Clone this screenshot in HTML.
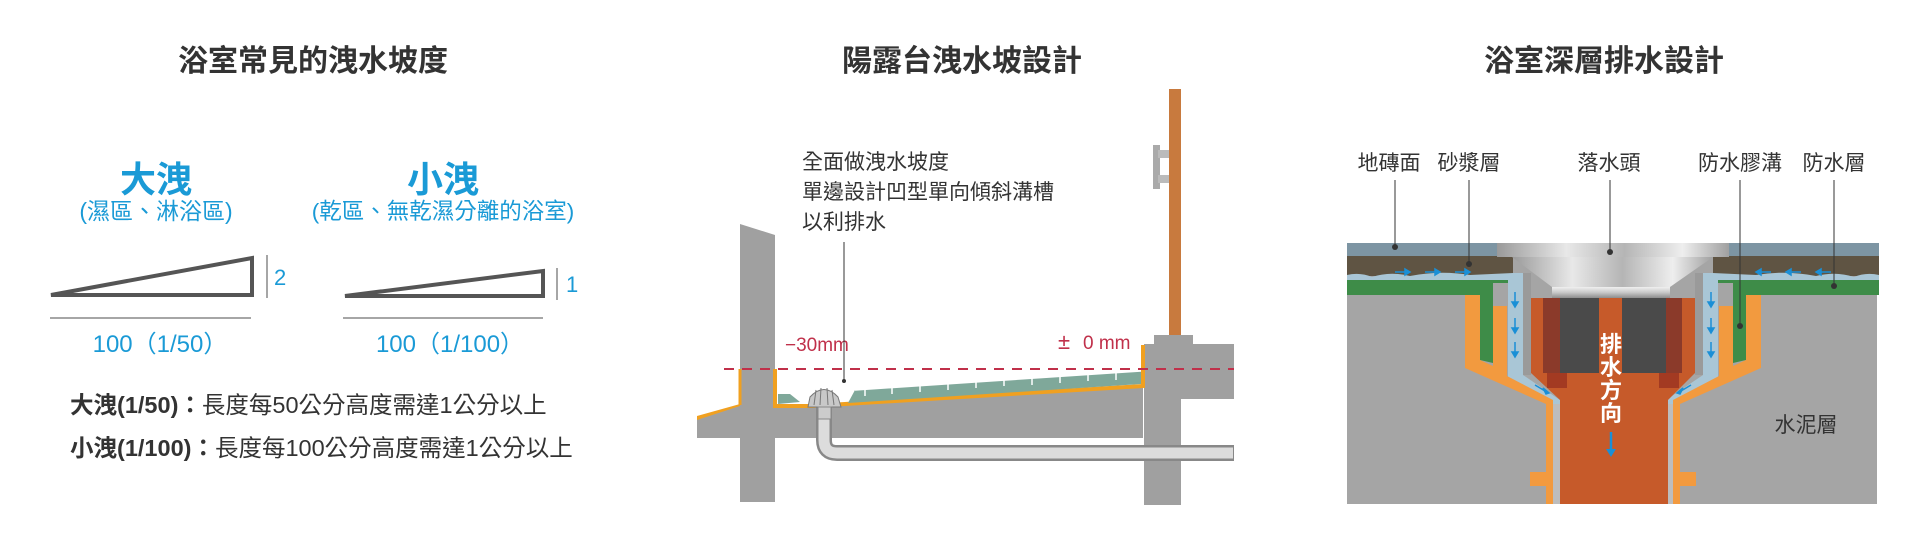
<!DOCTYPE html>
<html><head><meta charset="utf-8">
<style>
html,body{margin:0;padding:0;background:#fff;}
svg{display:block;}
text{font-family:"Liberation Sans","Noto Sans CJK TC",sans-serif;}
</style></head>
<body>
<svg width="1920" height="536" viewBox="0 0 1920 536" xmlns="http://www.w3.org/2000/svg">
<defs>
<linearGradient id="silv" x1="0" y1="0" x2="1" y2="0">
<stop offset="0" stop-color="#9a9a9a"/><stop offset="0.3" stop-color="#e8e8e8"/><stop offset="0.55" stop-color="#b5b5b5"/><stop offset="0.8" stop-color="#eeeeee"/><stop offset="1" stop-color="#a0a0a0"/>
</linearGradient>
<linearGradient id="silv2" x1="0" y1="0" x2="0" y2="1">
<stop offset="0" stop-color="#f0f0f0"/><stop offset="0.5" stop-color="#c8c8c8"/><stop offset="1" stop-color="#8c8c8c"/>
</linearGradient>
</defs>

<!-- ===== Panel 1 ===== -->
<text x="313" y="71" font-size="30" font-weight="bold" fill="#333" text-anchor="middle">浴室常見的洩水坡度</text>
<text x="156" y="192" font-size="36" font-weight="bold" fill="#1a9ad6" text-anchor="middle">大洩</text>
<text x="156" y="219" font-size="23" fill="#1a9ad6" text-anchor="middle">(濕區、淋浴區)</text>
<text x="443" y="192" font-size="36" font-weight="bold" fill="#1a9ad6" text-anchor="middle">小洩</text>
<text x="443" y="219" font-size="22.5" fill="#1a9ad6" text-anchor="middle">(乾區、無乾濕分離的浴室)</text>

<polygon points="51,295 252,258 252,295" fill="none" stroke="#555" stroke-width="4" stroke-linejoin="miter"/>
<line x1="267" y1="255" x2="267" y2="298" stroke="#888" stroke-width="1.5"/>
<text x="274" y="285" font-size="22" fill="#1a9ad6">2</text>
<line x1="50" y1="318" x2="251" y2="318" stroke="#888" stroke-width="1.5"/>
<text x="160" y="352" font-size="24" fill="#1a9ad6" text-anchor="middle">100（1/50）</text>

<polygon points="345,296 543,271 543,296" fill="none" stroke="#555" stroke-width="4"/>
<line x1="557" y1="268" x2="557" y2="300" stroke="#888" stroke-width="1.5"/>
<text x="566" y="292" font-size="22" fill="#1a9ad6">1</text>
<line x1="343" y1="318" x2="543" y2="318" stroke="#888" stroke-width="1.5"/>
<text x="450" y="352" font-size="24" fill="#1a9ad6" text-anchor="middle">100（1/100）</text>

<text x="70" y="413" font-size="23.5" fill="#333"><tspan font-weight="bold">大洩(1/50)：</tspan>長度每50公分高度需達1公分以上</text>
<text x="70" y="456" font-size="23.5" fill="#333"><tspan font-weight="bold">小洩(1/100)：</tspan>長度每100公分高度需達1公分以上</text>

<!-- ===== Panel 2 ===== -->
<text x="962" y="71" font-size="30" font-weight="bold" fill="#333" text-anchor="middle">陽露台洩水坡設計</text>
<text x="802" y="169" font-size="21" fill="#333">全面做洩水坡度</text>
<text x="802" y="199" font-size="21" fill="#333">單邊設計凹型單向傾斜溝槽</text>
<text x="802" y="229" font-size="21" fill="#333">以利排水</text>

<rect x="1169" y="89" width="12" height="248" fill="#c87a3e"/>
<rect x="1153" y="145" width="7" height="44" fill="#aaa"/>
<rect x="1158" y="150" width="11" height="8" fill="#bbb"/>
<rect x="1158" y="175" width="11" height="8" fill="#bbb"/>

<g fill="#a0a0a0">
<polygon points="740,224 775,235 775,502 740,502"/>
<polygon points="697,418 740,405 775,405 812,407 1143,387 1143,438 697,438"/>
<rect x="1144" y="344" width="90" height="55"/>
<rect x="1154" y="335" width="39" height="10"/>
<rect x="1144" y="344" width="37" height="161"/>
</g>
<polygon points="697,416 740,404 740,406 697,420" fill="#f0a020"/>
<polyline points="740,369 740,405" stroke="#f0a020" stroke-width="3" fill="none"/>
<polyline points="775,369 775,406 812,406 1143,386 1143,345" stroke="#f0a020" stroke-width="4" fill="none"/>
<polygon points="778,404 778,394 790,394 800,402" fill="#7fa89a"/>
<polygon points="848,403 855,390 1141,371 1141,384" fill="#7fa89a"/>
<g stroke="#fff" stroke-width="1.5">
<line x1="865" y1="389" x2="865" y2="396"/><line x1="892" y1="387" x2="892" y2="394"/>
<line x1="920" y1="385" x2="920" y2="392"/><line x1="948" y1="383" x2="948" y2="390"/>
<line x1="976" y1="381" x2="976" y2="388"/><line x1="1004" y1="379" x2="1004" y2="386"/>
<line x1="1032" y1="378" x2="1032" y2="385"/><line x1="1060" y1="376" x2="1060" y2="383"/>
<line x1="1088" y1="374" x2="1088" y2="381"/><line x1="1116" y1="373" x2="1116" y2="380"/>
<line x1="855" y1="390" x2="1141" y2="371"/>
</g>
<path d="M824,405 V440 Q824,453 837,453 H1234" stroke="#888" stroke-width="16" fill="none"/>
<path d="M824,405 V440 Q824,453 837,453 H1233" stroke="#dcdcdc" stroke-width="11" fill="none"/>
<path d="M808,407 L810,397 Q824,382 838,397 L841,407 Z" fill="#c8c8c8" stroke="#777" stroke-width="1"/>
<g stroke="#777" stroke-width="1"><line x1="816" y1="390" x2="814" y2="405"/><line x1="821" y1="388" x2="820" y2="405"/><line x1="827" y1="388" x2="828" y2="405"/><line x1="832" y1="390" x2="834" y2="405"/></g>
<rect x="818" y="407" width="13" height="12" fill="#ccc" stroke="#888"/>
<line x1="724" y1="369" x2="1234" y2="369" stroke="#c0304a" stroke-width="2" stroke-dasharray="10,8"/>
<text x="785" y="351" font-size="19" fill="#c0304a">−30mm</text>
<text x="1058" y="349" font-size="22" fill="#c0304a">±</text>
<text x="1083" y="349" font-size="19" fill="#c0304a">0 mm</text>
<line x1="844" y1="242" x2="844" y2="381" stroke="#333" stroke-width="1"/>
<circle cx="844" cy="381" r="2" fill="#333"/>

<!-- ===== Panel 3 ===== -->
<text x="1604" y="71" font-size="30" font-weight="bold" fill="#333" text-anchor="middle">浴室深層排水設計</text>
<rect x="1347" y="243" width="530" height="261" fill="#a5a5a5"/>

<g id="half">
<rect x="1347" y="243" width="150" height="13" fill="#7d95a3"/>
<rect x="1347" y="256" width="166" height="20" fill="#5f5443"/>
<path d="M1347,275 Q1360,272 1372,277 Q1390,271 1410,276 Q1440,270 1470,275 L1513,273 L1523,273 L1523,375 L1560,400 L1560,504 L1552,504 L1552,404 L1508,378 L1508,281 L1347,281 Z" fill="#a9c6d6"/>
<polygon points="1347,280 1508,280 1508,283 1493,283 1493,363 1480,360 1480,295 1347,295" fill="#3e8c48"/>
<polygon points="1465,295 1480,295 1480,360 1493,366 1493,306 1507,306 1507,376 1553,400 1553,504 1546,504 1546,486 1530,486 1530,472 1546,472 1546,404 1465,368" fill="#f29a3f"/>
<polygon points="1553,404 1560,404 1560,504 1553,504" fill="#bdbdbd"/>
<rect x="1523" y="273" width="8" height="102" fill="#9a9a9a"/>
<g fill="#1a8fd6" stroke="#1a8fd6" stroke-width="1.5">
<line x1="1395" y1="272" x2="1405" y2="272"/><polygon points="1405,269 1410,272 1405,275"/>
<line x1="1425" y1="272" x2="1435" y2="272"/><polygon points="1435,269 1440,272 1435,275"/>
<line x1="1455" y1="272" x2="1465" y2="272"/><polygon points="1465,269 1470,272 1465,275"/>
<line x1="1515" y1="292" x2="1515" y2="302"/><polygon points="1512,302 1515,307 1518,302"/>
<line x1="1515" y1="318" x2="1515" y2="328"/><polygon points="1512,328 1515,333 1518,328"/>
<line x1="1515" y1="342" x2="1515" y2="352"/><polygon points="1512,352 1515,357 1518,352"/>
<line x1="1535" y1="385" x2="1545" y2="391"/><polygon points="1543,388 1549,393 1546,394"/>
</g>
</g>
<use href="#half" transform="translate(3226,0) scale(-1,1)"/>

<polygon points="1531,298 1695,298 1695,373 1668,400 1668,504 1560,504 1560,400 1531,373" fill="#c65a2a"/>
<rect x="1543" y="298" width="17" height="75" fill="#8b3a2a"/>
<rect x="1666" y="298" width="16" height="75" fill="#8b3a2a"/>
<rect x="1560" y="298" width="39" height="75" fill="#4a4a4a"/>
<rect x="1622" y="298" width="44" height="75" fill="#4a4a4a"/>
<rect x="1547" y="373" width="20" height="15" fill="#a33a22"/>
<rect x="1659" y="373" width="20" height="15" fill="#a33a22"/>
<rect x="1497" y="243" width="232" height="14" fill="url(#silv)"/>
<polygon points="1512,257 1713,257 1670,287 1552,287" fill="url(#silv)"/>
<rect x="1552" y="287" width="118" height="11" fill="url(#silv2)"/>
<text font-size="22" font-weight="bold" fill="#fff" text-anchor="middle"><tspan x="1611" y="352">排</tspan><tspan x="1611" y="375">水</tspan><tspan x="1611" y="398">方</tspan><tspan x="1611" y="421">向</tspan></text>
<line x1="1611" y1="432" x2="1611" y2="450" stroke="#1a8fd6" stroke-width="2.5"/>
<polygon points="1606,449 1616,449 1611,457" fill="#1a8fd6"/>
<text x="1806" y="432" font-size="21" fill="#333" text-anchor="middle">水泥層</text>

<g font-size="21" fill="#333" text-anchor="middle">
<text x="1389" y="170">地磚面</text>
<text x="1469" y="170">砂漿層</text>
<text x="1609" y="170">落水頭</text>
<text x="1740" y="170">防水膠溝</text>
<text x="1834" y="170">防水層</text>
</g>
<g stroke="#333" stroke-width="1">
<line x1="1395" y1="180" x2="1395" y2="247"/>
<line x1="1469" y1="180" x2="1469" y2="264"/>
<line x1="1610" y1="180" x2="1610" y2="252"/>
<line x1="1740" y1="180" x2="1740" y2="326"/>
<line x1="1834" y1="180" x2="1834" y2="286"/>
</g>
<g fill="#333">
<circle cx="1395" cy="247" r="3"/><circle cx="1469" cy="264" r="3"/><circle cx="1610" cy="252" r="3"/><circle cx="1740" cy="326" r="3"/><circle cx="1834" cy="286" r="3"/>
</g>
</svg>
</body></html>
